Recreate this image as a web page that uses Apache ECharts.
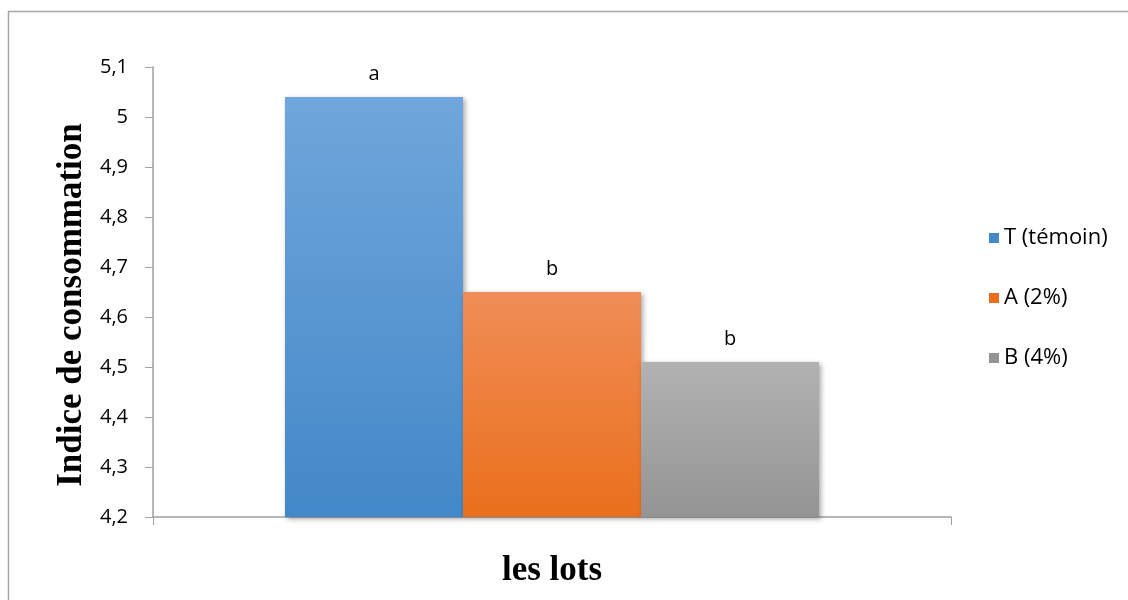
<!DOCTYPE html>
<html>
<head>
<meta charset="utf-8">
<script src="https://cdn.jsdelivr.net/npm/echarts@6/dist/echarts.min.js"></script>
<style>
  html, body { margin: 0; padding: 0; background: #ffffff; }
  #chart { width: 1128px; height: 600px; }
</style>
</head>
<body>
<div id="chart"></div>
<script>
// Consumption index per batch
const categories = ['les lots'];
const seriesNames = ['T (témoin)', 'A (2%)', 'B (4%)'];
const seriesValues = [5.04, 4.65, 4.51];
const groupLetters = ['a', 'b', 'b'];
const yTicks = { min: 4.2, max: 5.1, interval: 0.1 };

const gradients = [
  ['#70a6db', '#4388c8'],
  ['#f08d57', '#ea6f1c'],
  ['#b2b2b2', '#949494']
];

const chart = echarts.init(document.getElementById('chart'));

const series = seriesNames.map((name, i) => ({
  name: name,
  type: 'bar',
  data: [seriesValues[i]],
  barWidth: 178,
  barGap: '0%',
  itemStyle: {
    color: new echarts.graphic.LinearGradient(0, 0, 0, 1, [
      { offset: 0, color: gradients[i][0] },
      { offset: 1, color: gradients[i][1] }
    ]),
    shadowColor: 'rgba(0,0,0,0.35)',
    shadowBlur: 5,
    shadowOffsetX: 2,
    shadowOffsetY: 2
  },
  label: {
    show: true,
    position: 'top',
    distance: 13,
    formatter: () => groupLetters[i],
    color: '#000',
    fontFamily: 'Open Sans',
    fontSize: 20
  }
}));

chart.setOption({
  animation: false,
  backgroundColor: '#ffffff',
  graphic: [{
    type: 'rect',
    shape: { x: 8.5, y: 11.5, width: 1300, height: 800 },
    style: { fill: 'none', stroke: '#a6a6a6', lineWidth: 1.5 },
    silent: true,
    z: -10
  }],
  grid: { left: 153, right: 177, top: 67, bottom: 83 },
  legend: {
    orient: 'vertical',
    left: 984,
    top: 221,
    itemWidth: 10,
    itemHeight: 10,
    itemGap: 36,
    icon: 'rect',
    textStyle: { color: '#000', fontFamily: 'Open Sans', fontSize: 22, lineHeight: 24 },
    data: seriesNames.map((n, i) => ({ name: n, itemStyle: { color: gradients[i][1] } }))
  },
  xAxis: {
    type: 'category',
    data: categories,
    name: 'les lots',
    nameLocation: 'middle',
    nameGap: 36,
    nameTextStyle: { fontFamily: 'Liberation Serif', fontWeight: 'bold', fontSize: 35, color: '#000' },
    axisLine: { lineStyle: { color: '#a0a0a0', width: 1.5 } },
    axisTick: { show: true, length: 8, lineStyle: { color: '#a0a0a0' } },
    axisLabel: { show: false }
  },
  yAxis: {
    type: 'value',
    min: yTicks.min,
    max: yTicks.max,
    interval: yTicks.interval,
    name: 'Indice de consommation',
    nameLocation: 'middle',
    nameGap: 58,
    nameTextStyle: {
      fontFamily: 'Liberation Serif', fontWeight: 'bold', fontSize: 35, color: '#000',
      padding: [0, 26, 0, 0]
    },
    axisLine: { show: true, lineStyle: { color: '#a0a0a0', width: 1.5 } },
    axisTick: { show: true, length: 8, lineStyle: { color: '#a0a0a0' } },
    splitLine: { show: false },
    axisLabel: {
      color: '#000',
      fontFamily: 'Open Sans',
      fontSize: 20,
      margin: 25,
      formatter: v => String(Math.round(v * 10) / 10).replace('.', ',')
    }
  },
  series: series
});
</script>
</body>
</html>
